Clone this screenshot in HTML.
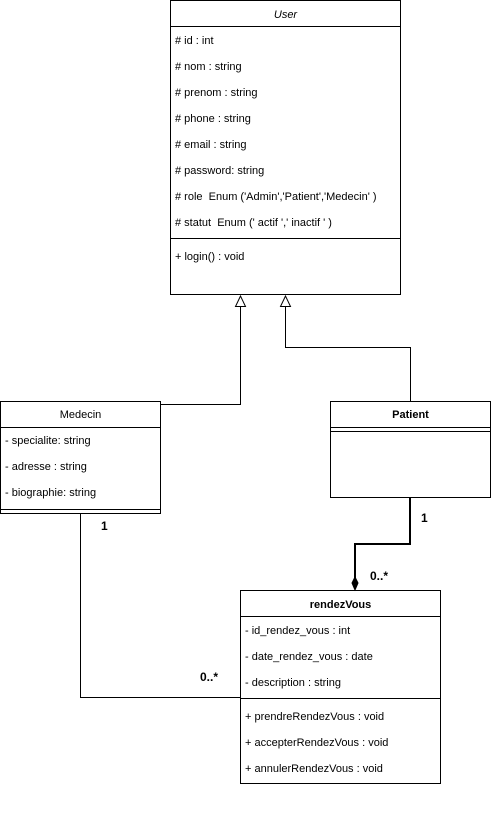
<!DOCTYPE html>
<html><head><style>
body{margin:0;background:#fff;width:491px;height:820px;overflow:hidden;position:relative;font-family:"Liberation Sans",Arial,sans-serif;font-size:11px;color:#000}
.t{position:absolute;white-space:nowrap;line-height:12px}
.c{text-align:center}
</style></head><body>
<svg width="491" height="820" style="position:absolute;left:0;top:0" fill="none" stroke="#000" stroke-width="1">
<rect x="170.5" y="0.5" width="230" height="294"/>
<line x1="170" y1="26.5" x2="401" y2="26.5"/>
<line x1="170" y1="238.5" x2="401" y2="238.5"/>
<polygon points="240.5,296 235.5,306.5 245.5,306.5" fill="#fff"/>
<polygon points="285.5,296 280.5,306.5 290.5,306.5" fill="#fff"/>
<polyline points="240.5,307 240.5,404.5 160,404.5"/>
<polyline points="285.5,307 285.5,347.5 410.5,347.5 410.5,402"/>
<rect x="0.5" y="401.5" width="160" height="112"/>
<line x1="0" y1="427.5" x2="161" y2="427.5"/>
<line x1="0" y1="509.5" x2="161" y2="509.5"/>
<rect x="330.5" y="401.5" width="160" height="96"/>
<line x1="330" y1="427.5" x2="491" y2="427.5"/>
<line x1="330" y1="431.5" x2="491" y2="431.5"/>
<polyline points="410,498 410,544 355,544 355,578" stroke-width="2"/>
<polygon points="355,577 352,583 355,590 358,583" fill="#000"/>
<polyline points="80.5,514 80.5,697.5 240,697.5"/>
<rect x="240.5" y="590.5" width="200" height="193"/>
<line x1="240" y1="616.5" x2="441" y2="616.5"/>
<line x1="240" y1="698.5" x2="441" y2="698.5"/>
</svg>
<div class="t c" style="left:170px;top:9px;width:231px;font-style:italic">User</div>
<div class="t" style="left:175px;top:35px"># id : int</div>
<div class="t" style="left:175px;top:61px"># nom : string</div>
<div class="t" style="left:175px;top:87px"># prenom : string</div>
<div class="t" style="left:175px;top:113px"># phone : string</div>
<div class="t" style="left:175px;top:139px"># email : string</div>
<div class="t" style="left:175px;top:165px"># password: string</div>
<div class="t" style="left:175px;top:191px"># role&nbsp; Enum ('Admin','Patient','Medecin' )</div>
<div class="t" style="left:175px;top:217px"># statut&nbsp; Enum (' actif ',' inactif ' )</div>
<div class="t" style="left:175px;top:251px">+ login() : void</div>
<div class="t c" style="left:0;top:409px;width:161px">Medecin</div>
<div class="t" style="left:5px;top:435px">- specialite: string</div>
<div class="t" style="left:5px;top:461px">- adresse : string</div>
<div class="t" style="left:5px;top:487px">- biographie: string</div>
<div class="t c" style="left:330px;top:409px;width:161px;font-weight:bold">Patient</div>
<div class="t" style="left:421px;top:512px;font-weight:bold;font-size:12px">1</div>
<div class="t" style="left:370px;top:570px;font-weight:bold;font-size:12px">0..*</div>
<div class="t" style="left:101px;top:520px;font-weight:bold;font-size:12px">1</div>
<div class="t" style="left:200px;top:671px;font-weight:bold;font-size:12px">0..*</div>
<div class="t c" style="left:240px;top:599px;width:201px;font-weight:bold">rendezVous</div>
<div class="t" style="left:245px;top:625px">- id_rendez_vous : int</div>
<div class="t" style="left:245px;top:651px">- date_rendez_vous : date</div>
<div class="t" style="left:245px;top:677px">- description : string</div>
<div class="t" style="left:245px;top:711px">+ prendreRendezVous : void</div>
<div class="t" style="left:245px;top:737px">+ accepterRendezVous : void</div>
<div class="t" style="left:245px;top:763px">+ annulerRendezVous : void</div>
</body></html>
